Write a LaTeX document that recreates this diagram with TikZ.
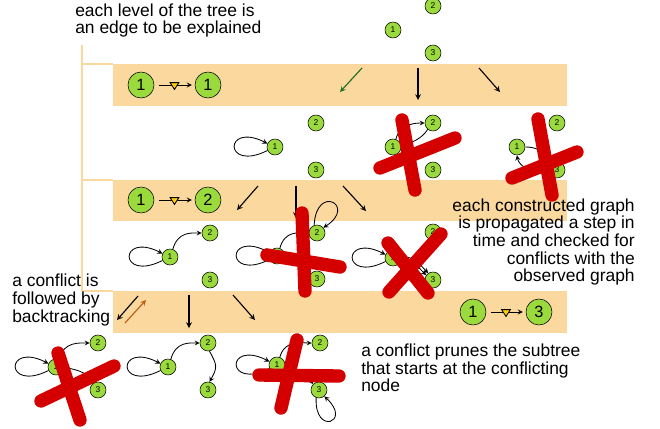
\documentclass[tikz,border=0pt]{standalone}
\usepackage{fontspec}
\setmainfont{Liberation Sans}
\usepackage{tikz}
\usetikzlibrary{arrows,positioning,shapes.geometric}
\definecolor{bandorange}{RGB}{251,216,157}
\definecolor{nodegreen}{RGB}{155,218,60}
\definecolor{crossred}{RGB}{212,0,0}
\definecolor{markyellow}{RGB}{255,204,0}
\definecolor{backbrown}{RGB}{190,90,20}
\definecolor{fwdgreen}{RGB}{30,110,30}
\tikzstyle{bignode} = [circle,draw,fill=nodegreen,minimum size=0.65cm,inner sep=0pt,font=\fontsize{11.6}{12}\selectfont]
\tikzstyle{smallnode} = [circle,draw,fill=nodegreen,minimum size=0.4cm,inner sep=0pt,font=\fontsize{6}{7}\selectfont]
\tikzstyle{edge} = [->,>=stealth,line width=0.6pt]
\tikzstyle{treearrow} = [->,>=stealth,line width=0.8pt]
\tikzstyle{band} = [fill=bandorange]
\tikzstyle{bracket} = [draw=bandorange,line width=1.4pt]
\tikzstyle{cross} = [draw=crossred,line width=9.5pt,line cap=round]
\tikzstyle{marker} = [isosceles triangle,isosceles triangle stretches,draw,fill=markyellow,shape border rotate=270,minimum height=0.17cm,minimum width=0.22cm,inner sep=0pt]
\tikzstyle{note} = [font=\fontsize{12.4}{12.6}\selectfont,inner sep=0pt]

\begin{document}
\begin{tikzpicture}[x=0.025cm,y=-0.025cm]
\useasboundingbox (0,0) rectangle (660,429);

% levels of the tree
\fill[band] (113,64) rectangle (567,106);
\fill[band] (113,180) rectangle (567,221);
\fill[band] (113,291) rectangle (567,333);
\draw[bracket] (82,45) -- (82,291);
\foreach \y in {64,180,291}
  \draw[bracket] (82,\y) -- (113,\y);

\node[bignode] (lv1a) at (141,85) {1};
\node[bignode] (lv1b) at (208,85) {1};
\draw[edge,shorten <=3pt,shorten >=2pt] (lv1a) -- node[marker] {} (lv1b);
\node[bignode] (lv2a) at (141,200) {1};
\node[bignode] (lv2b) at (208,200) {2};
\draw[edge,shorten <=3pt,shorten >=2pt] (lv2a) -- node[marker] {} (lv2b);
\node[bignode] (lv3a) at (473,312) {1};
\node[bignode] (lv3b) at (539,312) {3};
\draw[edge,shorten <=3pt,shorten >=2pt] (lv3a) -- node[marker] {} (lv3b);

% steps between levels
\foreach \sx/\sy/\tx/\ty/\n in {418/68/418/100/b, 479/68/500/92/c,
    258/186/237/210/d, 296/186/296/218/e, 343/186/366/211/f,
    138/296/117/320/g, 189/295/189/328/h, 233/295/255/320/i} {
  \coordinate (s\n) at (\sx,\sy);
  \coordinate (t\n) at (\tx,\ty);
  \draw[treearrow] (s\n) -- (t\n);
}
\coordinate (sa) at (362,68);
\coordinate (ta) at (340,92);
\draw[treearrow,fwdgreen] (sa) -- (ta);
\coordinate (sback) at (125,323);
\coordinate (tback) at (146,300);
\draw[treearrow,backbrown] (sback) -- (tback);

% observed graph
\node[smallnode] (r1) at (393,30) {1};
\node[smallnode] (r2) at (433,6) {2};
\node[smallnode] (r3) at (433,53) {3};

% first level
\node[smallnode] (a1) at (275,147) {1};
\node[smallnode] (a2) at (316,123) {2};
\node[smallnode] (a3) at (316,170) {3};
\draw[edge] (a1.205) .. controls +(-44,22) and +(-44,-22) .. (a1.155);

\node[smallnode] (b1) at (393,147) {1};
\node[smallnode] (b2) at (433,123) {2};
\node[smallnode] (b3) at (433,170) {3};
\draw[edge] (b1.70) .. controls +(4,-16) and +(-8,0) .. (b2.west);
\draw[edge] (b2.230) .. controls +(-6,10) and +(8,-2) .. (b1.10);

\node[smallnode] (c1) at (517,147) {1};
\node[smallnode] (c2) at (557,123) {2};
\node[smallnode] (c3) at (557,170) {3};
\draw[edge] (c1.east) .. controls +(18,0) and +(-6,-8) .. (c3.140);
\draw[edge] (c3.200) .. controls +(-14,2) and +(2,12) .. (c1.south);

% second level
\node[smallnode] (d1) at (170,257) {1};
\node[smallnode] (d2) at (210,233) {2};
\node[smallnode] (d3) at (210,280) {3};
\draw[edge] (d1.205) .. controls +(-44,22) and +(-44,-22) .. (d1.155);
\draw[edge] (d1.70) .. controls +(5,-18) and +(-10,0) .. (d2.west);

\node[smallnode] (e1) at (277,256) {1};
\node[smallnode] (e2) at (317,233) {2};
\node[smallnode] (e3) at (317,279) {3};
\draw[edge] (e1.205) .. controls +(-44,22) and +(-44,-22) .. (e1.155);
\draw[edge] (e1.70) .. controls +(5,-18) and +(-10,0) .. (e2.west);
\draw[edge] (e2.110) .. controls +(2,-42) and +(34,-22) .. (e2.40);

\node[smallnode] (f1) at (393,258) {1};
\node[smallnode] (f2) at (433,232) {2};
\node[smallnode] (f3) at (433,280) {3};
\draw[edge] (f1.205) .. controls +(-44,22) and +(-44,-22) .. (f1.155);
\draw[edge] (f1.5) .. controls +(12,0) .. (f3.125);
\draw[edge] (f1.-5) .. controls +(9,0) .. (f3.145);

% third level
\node[smallnode] (g1) at (56,367) {1};
\node[smallnode] (g2) at (98,343) {2};
\node[smallnode] (g3) at (98,390) {3};
\draw[edge] (g1.205) .. controls +(-44,22) and +(-44,-22) .. (g1.155);
\draw[edge] (g1.70) .. controls +(5,-18) and +(-10,0) .. (g2.west);
\draw[edge] (g1.-5) .. controls +(18,2) and +(-4,-8) .. (g3.130);

\node[smallnode] (h1) at (168,367) {1};
\node[smallnode] (h2) at (208,343) {2};
\node[smallnode] (h3) at (208,390) {3};
\draw[edge] (h1.205) .. controls +(-44,22) and +(-44,-22) .. (h1.155);
\draw[edge] (h1.70) .. controls +(5,-18) and +(-10,0) .. (h2.west);
\draw[edge] (h2.-80) .. controls +(8,14) and +(8,-14) .. (h3.80);

\node[smallnode] (i1) at (277,365) {1};
\node[smallnode] (i2) at (320,343) {2};
\node[smallnode] (i3) at (319,390) {3};
\draw[edge] (i1.205) .. controls +(-44,22) and +(-44,-22) .. (i1.155);
\draw[edge] (i1.70) .. controls +(5,-18) and +(-10,0) .. (i2.west);
\draw[edge] (i1.-10) .. controls +(15,2) and +(-6,-8) .. (i3.135);
\draw[edge] (i3.250) .. controls +(-2,38) and +(28,26) .. (i3.310);

% conflicts
\draw[cross] (402,120) -- (415,190);
\draw[cross] (380,168) -- (455,138);
\draw[cross] (538,119) -- (552,195);
\draw[cross] (512,178) -- (577,152);
\draw[cross] (302,213) -- (305,291);
\draw[cross] (267,255) -- (340,267);
\draw[cross] (388,243) -- (428,293);
\draw[cross] (441,234) -- (389,292);
\draw[cross] (58,353) -- (80,420);
\draw[cross] (41,401) -- (114,366);
\draw[cross] (297,340) -- (281,408);
\draw[cross] (259,375) -- (339,376);

% comments
\node[note,anchor=west,align=left] (ntree) at (75,20.5) {each level of the tree is\\an edge to be explained};
\node[note,anchor=east,align=right] (nprop) at (635,242) {each constructed graph\\is propagated a step in\\time and checked for\\conflicts with the\\observed graph};
\node[note,anchor=west,align=left] (nback) at (12,300) {a conflict is\\followed by\\backtracking};
\node[note,anchor=west,align=left] (nprune) at (361,368) {a conflict prunes the subtree\\that starts at the conflicting\\node};
\end{tikzpicture}
\end{document}
